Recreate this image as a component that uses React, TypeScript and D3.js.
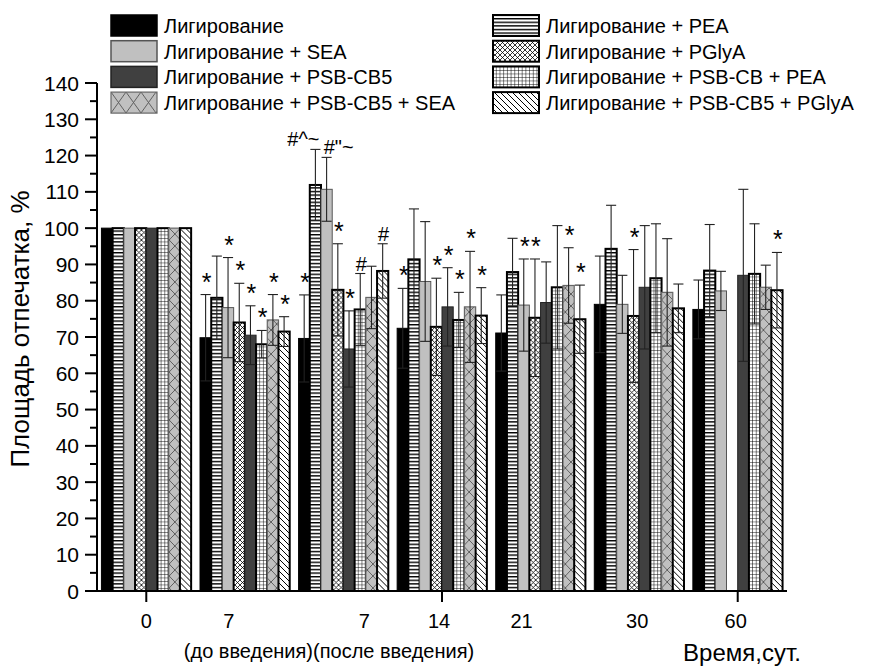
import React from 'react';
import * as d3 from 'd3';

// groups (days) and their axis labels
const groups = ['0', '7pre', '7post', '14', '21', '30', '60'];
const groupLabels = ['0', '7', '7', '14', '21', '30', '60'];

const seriesNames = [
  'Лигирование',
  'Лигирование + PEA',
  'Лигирование + SEA',
  'Лигирование + PGlyA',
  'Лигирование + PSB-CB5',
  'Лигирование + PSB-CB + PEA',
  'Лигирование + PSB-CB5 + SEA',
  'Лигирование + PSB-CB5 + PGlyA',
];

// mean values, %
const ligation = [100, 69.8, 69.6, 72.4, 71.1, 79.0, 77.6];
const pea = [100, 80.8, 111.9, 91.4, 87.9, 94.3, 88.3];
const sea = [100, 78.1, 110.7, 85.3, 78.8, 79.0, 82.7];
const pglya = [100, 74.0, 83.0, 72.8, 75.3, 75.8, null];
const psb = [100, 70.5, 66.7, 78.3, 79.5, 83.7, 87.0];
const psbPea = [100, 68.0, 77.6, 74.7, 83.7, 86.2, 87.4];
const psbSea = [100, 74.7, 80.9, 78.3, 84.2, 82.3, 83.7];
const psbPglya = [100, 71.5, 88.2, 75.9, 74.9, 77.9, 82.9];

// standard deviations
const ligationSd = [0, 11.9, 12, 11, 10.5, 13.3, 8.1];
const peaSd = [0, 11.5, 9.8, 13.9, 9.3, 12, 12.7];
const seaSd = [0, 13.8, 8.8, 16.5, 12.7, 8, 5.4];
const pglyaSd = [0, 10.8, 12.7, 13.4, 16.2, 18.3, null];
const psbSd = [0, 8.1, 10.5, 10.8, 11.2, 17, 23.7];
const psbPeaSd = [0, 3.8, 9.9, 7.6, 17, 15, 13.8];
const psbSeaSd = [0, 7, 8.6, 15.3, 10.4, 14.8, 6.1];
const psbPglyaSd = [0, 4.1, 7.5, 7.7, 9.4, 6.7, 10.4];

// significance marks
const ligationMarks = ['', '*', '*', '*', '', '', ''];
const peaMarks = ['', '', '#^~', '', '', '', ''];
const seaMarks = ['', '*', '#"~', '', '*', '', ''];
const pglyaMarks = ['', '*', '*', '*', '*', '*', ''];
const psbMarks = ['', '*', '*', '*', '', '', ''];
const psbPeaMarks = ['', '*', '#', '*', '', '', ''];
const psbSeaMarks = ['', '*', '', '*', '*', '', ''];
const psbPglyaMarks = ['', '*', '#', '*', '*', '', '*'];

const yTicks = [0, 10, 20, 30, 40, 50, 60, 70, 80, 90, 100, 110, 120, 130, 140];

const means = [ligation, pea, sea, pglya, psb, psbPea, psbSea, psbPglya];
const sds = [ligationSd, peaSd, seaSd, pglyaSd, psbSd, psbPeaSd, psbSeaSd, psbPglyaSd];
const marks = [ligationMarks, peaMarks, seaMarks, pglyaMarks, psbMarks, psbPeaMarks, psbSeaMarks, psbPglyaMarks];

// layout
const W = 869;
const H = 666;
const left = 97;
const right = 787;
const top = 83;
const bottom = 591;
const labelShift = [0, -16, 21, -3, -19, -2, -2];
const font = 'Arial, "Liberation Sans", sans-serif';

const styles = [
  { fill: '#000', stroke: '#000', sw: 1 },
  { fill: 'url(#pHoriz)', stroke: '#000', sw: 2 },
  { fill: '#c0c0c0', stroke: '#555', sw: 1 },
  { fill: 'url(#pCross)', stroke: '#000', sw: 2 },
  { fill: '#404040', stroke: '#222', sw: 1 },
  { fill: 'url(#pGrid)', stroke: '#000', sw: 2 },
  { fill: 'grayx', stroke: '#666', sw: 1.2 },
  { fill: 'url(#pDiag)', stroke: '#000', sw: 2 },
];

const App = () => {
  const x = d3.scaleBand().domain(groups).range([left, right]).paddingInner(0.09).paddingOuter(0.045);
  const xs = d3.scaleBand().domain(d3.range(8).map(String)).range([0, x.bandwidth()]);
  const y = d3.scaleLinear().domain([0, 140]).range([bottom, top]);
  const bw = xs.bandwidth();
  const minor = d3.range(5, 140, 10);

  const fillOf = (s: number, gi: number) =>
    styles[s].fill === 'grayx' ? `url(#pGrayX${gi})` : styles[s].fill;

  return (
    <svg width={W} height={H} style={{ position: 'absolute', left: 0, top: 0, background: '#fff' }}>
      <defs>
        <pattern id="pHoriz" patternUnits="userSpaceOnUse" width={4} height={3.6}>
          <rect width={4} height={3.6} fill="#fff" />
          <rect y={0} width={4} height={1.4} fill="#000" />
        </pattern>
        <pattern id="pCross" patternUnits="userSpaceOnUse" width={5} height={5}>
          <rect width={5} height={5} fill="#fff" />
          <path d="M0,0 L5,5 M5,0 L0,5" stroke="#000" strokeWidth={0.8} />
        </pattern>
        <pattern id="pGrid" patternUnits="userSpaceOnUse" width={3.7} height={3.5}>
          <rect width={3.7} height={3.5} fill="#fff" />
          <path d="M0,0 H3.7 M0,0 V3.5" stroke="#000" strokeWidth={1} />
        </pattern>
        <pattern id="pDiag" patternUnits="userSpaceOnUse" width={6} height={6}>
          <rect width={6} height={6} fill="#fff" />
          <path d="M-1,-1 L7,7 M-1,5 L1,7 M5,-1 L7,1" stroke="#000" strokeWidth={1} />
        </pattern>
        {groups.map((g, gi) => (
          <pattern
            key={g}
            id={`pGrayX${gi}`}
            patternUnits="userSpaceOnUse"
            x={(x(g) as number) + (xs('6') as number)}
            y={0}
            width={bw}
            height={12}
          >
            <rect width={bw} height={12} fill="#c0c0c0" />
            <path d={`M0,0 L${bw},12 M${bw},0 L0,12`} stroke="#555" strokeWidth={0.9} />
          </pattern>
        ))}
        <pattern id="pGrayXLeg" patternUnits="userSpaceOnUse" x={111} y={92} width={15} height={21}>
          <rect width={15} height={21} fill="#c0c0c0" />
          <path d="M0,0 L7.5,10.5 L15,0 M0,21 L7.5,10.5 L15,21" stroke="#555" strokeWidth={0.9} fill="none" />
        </pattern>
      </defs>

      {/* bars */}
      {groups.map((g, gi) => (
        <g key={g} transform={`translate(${x(g)},0)`}>
          {means.map((m, s) => {
            const v = m[gi];
            if (v == null) return null;
            const bx = xs(String(s)) as number;
            return (
              <rect
                key={s}
                x={bx}
                y={y(v)}
                width={bw}
                height={y(0) - y(v)}
                fill={fillOf(s, gi)}
                stroke={styles[s].stroke}
                strokeWidth={styles[s].sw}
              />
            );
          })}
          {/* error bars */}
          {means.map((m, s) => {
            const v = m[gi];
            const e = sds[s][gi];
            if (v == null || !e) return null;
            const cx = (xs(String(s)) as number) + bw / 2;
            const cap = bw * 0.45;
            return (
              <g key={s} stroke="#222" strokeWidth={1.1}>
                <line x1={cx} x2={cx} y1={y(v + e)} y2={y(v - e)} />
                <line x1={cx - cap} x2={cx + cap} y1={y(v + e)} y2={y(v + e)} />
                <line x1={cx - cap} x2={cx + cap} y1={y(v - e)} y2={y(v - e)} />
              </g>
            );
          })}
          {/* significance marks */}
          {means.map((m, s) => {
            const v = m[gi];
            const t = marks[s][gi];
            if (v == null || !t) return null;
            const e = sds[s][gi] || 0;
            const cx = (xs(String(s)) as number) + bw / 2;
            const dx = t === '#^~' ? -12 : t === '#"~' ? 12 : 1;
            const star = t === '*';
            return (
              <text
                key={s}
                x={cx + dx}
                y={y(v + e) - (star ? 4 : 3)}
                textAnchor="middle"
                fontFamily={font}
                fontSize={star ? 25 : 20}
              >
                {t}
              </text>
            );
          })}
        </g>
      ))}

      {/* y axis */}
      <line x1={left} x2={left} y1={bottom + 1} y2={top} stroke="#000" strokeWidth={2} />
      {yTicks.map((t) => (
        <g key={t}>
          <line x1={left - 12} x2={left} y1={y(t)} y2={y(t)} stroke="#000" strokeWidth={2} />
          <text x={79} y={y(t) + 7.5} textAnchor="end" fontFamily={font} fontSize={21}>
            {t}
          </text>
        </g>
      ))}
      {minor.map((t) => (
        <line key={t} x1={left - 7} x2={left} y1={y(t)} y2={y(t)} stroke="#000" strokeWidth={2} />
      ))}
      <text
        transform={`translate(29,${(top + bottom) / 2 - 8}) rotate(-90)`}
        textAnchor="middle"
        fontFamily={font}
        fontSize={26}
      >
        Площадь отпечатка, %
      </text>

      {/* x axis */}
      <line x1={left - 1} x2={right} y1={bottom} y2={bottom} stroke="#000" strokeWidth={2} />
      {groups
        .filter((_, i) => i % 3 === 0)
        .map((g) => (
          <line
            key={g}
            x1={(x(g) as number) + x.bandwidth() / 2}
            x2={(x(g) as number) + x.bandwidth() / 2}
            y1={bottom}
            y2={bottom + 11}
            stroke="#000"
            strokeWidth={2}
          />
        ))}
      {groups.map((g, i) => (
        <text
          key={g}
          x={(x(g) as number) + x.bandwidth() / 2 + labelShift[i]}
          y={628}
          textAnchor="middle"
          fontFamily={font}
          fontSize={20}
        >
          {groupLabels[i]}
        </text>
      ))}
      <text x={329} y={658} textAnchor="middle" fontFamily={font} fontSize={20}>
        (до введения)(после введения)
      </text>
      <text x={742} y={661} textAnchor="middle" fontFamily={font} fontSize={24}>
        Время,сут.
      </text>

      {/* legend */}
      {seriesNames.map((name, s) => {
        const col = s % 2;
        const row = Math.floor(s / 2);
        const sx = col === 0 ? 111 : 493;
        const sy = 15 + row * 25.7;
        const fill = styles[s].fill === 'grayx' ? 'url(#pGrayXLeg)' : styles[s].fill;
        return (
          <g key={name}>
            <rect
              x={sx}
              y={sy}
              width={46}
              height={21}
              fill={fill}
              stroke={s === 0 ? '#000' : styles[s].stroke}
              strokeWidth={styles[s].sw === 1 ? 1.5 : styles[s].sw}
            />
            <text x={sx + 53} y={sy + 18} fontFamily={font} fontSize={20}>
              {name}
            </text>
          </g>
        );
      })}
    </svg>
  );
};

export default App;
